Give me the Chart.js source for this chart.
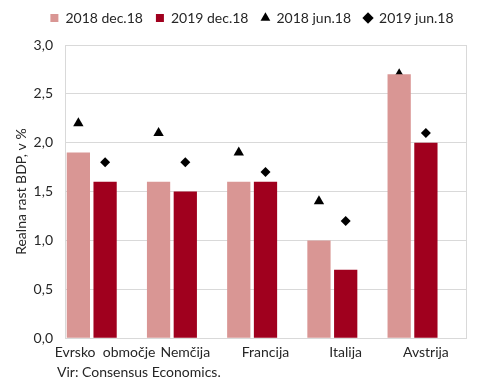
<!DOCTYPE html>
<html>
<head>
<meta charset="utf-8">
<script src="https://cdn.jsdelivr.net/npm/chart.js@4"></script>
<style>
  html, body { margin: 0; padding: 0; background: #fff; }
  #wrap { width: 490px; height: 382px; position: relative; }
</style>
</head>
<body>
<div id="wrap"><canvas id="chartGdp"></canvas></div>
<script>
	'use strict';

	const categories = ['Evrsko  območje', 'Nemčija', 'Francija', 'Italija', 'Avstrija'];
	const dec2018 = [1.9, 1.6, 1.6, 1.0, 2.7];
	const dec2019 = [1.6, 1.5, 1.6, 0.7, 2.0];
	const jun2018 = [2.2, 2.1, 1.9, 1.4, 2.7];
	const jun2019 = [1.8, 1.8, 1.7, 1.2, 2.1];
	const yTicks = [0, 0.5, 1, 1.5, 2, 2.5, 3];

	const FONT = 'Lato, "Open Sans", sans-serif';
	const GRID = '#d9d9d9';
	const TEXT = '#262626';

	// each category holds 3 bar slots (2018, 2019, empty); the label sits on the middle one
	const slot = 1 / 3;
	const toPoints = (arr, shift) => arr.map((v, i) => ({ x: i + shift, y: v }));

	const frame = {
		id: 'frame',
		afterInit(chart) {
			// fixed legend height so the plot starts where the reference does
			const legend = chart.legend;
			const fit = legend.fit;
			legend.fit = function () {
				fit.call(this);
				this.height = 47;
			};
		},
		afterLayout(chart) {
			// legend is centred over the plot, not the canvas
			chart.legend.left += 19;
			chart.legend.right += 19;
		},
		afterDraw(chart) {
			const { ctx, chartArea: a } = chart;
			ctx.save();
			ctx.strokeStyle = GRID;
			ctx.lineWidth = 1;
			ctx.strokeRect(Math.round(a.left) + 0.5, Math.round(a.top) + 0.5, Math.round(a.right - a.left), Math.round(a.bottom - a.top));
			ctx.fillStyle = TEXT;
			ctx.font = '14px ' + FONT;
			ctx.textBaseline = 'middle';
			ctx.fillText('Vir: Consensus Economics.', 57, 372);
			ctx.restore();
		}
	};

	const ctx = document.getElementById('chartGdp').getContext('2d');

	new Chart(ctx, {
		type: 'bar',
		data: {
			datasets: [
				{
					label: '2018 dec.18',
					data: toPoints(dec2018, -slot),
					backgroundColor: '#d99694',
					borderWidth: 0,
					pointStyle: 'rect'
				},
				{
					label: '2019 dec.18',
					data: toPoints(dec2019, 0),
					backgroundColor: '#a0001e',
					borderWidth: 0,
					pointStyle: 'rect'
				},
				{
					type: 'line',
					label: '2018 jun.18',
					data: toPoints(jun2018, -slot),
					showLine: false,
					pointStyle: 'triangle',
					pointRadius: 6,
					pointHoverRadius: 6,
					backgroundColor: '#000',
					borderColor: '#000',
					borderWidth: 0
				},
				{
					type: 'line',
					label: '2019 jun.18',
					data: toPoints(jun2019, 0),
					showLine: false,
					pointStyle: 'rectRot',
					pointRadius: 5,
					pointHoverRadius: 5,
					backgroundColor: '#000',
					borderColor: '#000',
					borderWidth: 0
				}
			]
		},
		options: {
			responsive: true,
			maintainAspectRatio: false,
			animation: false,
			layout: {
				padding: { top: -2, right: 24, bottom: 15, left: 0 }
			},
			datasets: {
				bar: {
					grouped: false,
					categoryPercentage: 1,
					barPercentage: 0.87
				}
			},
			plugins: {
				tooltip: { enabled: false },
				legend: {
					position: 'top',
					labels: {
						sort: (a, b) => a.datasetIndex - b.datasetIndex,
						usePointStyle: true,
						boxWidth: 8,
						boxHeight: 8,
						padding: 13,
						color: TEXT,
						font: { family: FONT, size: 14 }
					}
				}
			},
			scales: {
				x: {
					type: 'linear',
					offset: false,
					min: -0.5,
					max: categories.length - 0.5,
					afterBuildTicks: (scale) => {
						scale.ticks = categories.map((c, i) => ({ value: i }));
					},
					grid: { display: false, drawTicks: false },
					border: { display: false },
					ticks: {
						color: TEXT,
						padding: 6,
						maxRotation: 0,
						autoSkip: false,
						font: { family: FONT, size: 14 },
						callback: (v) => categories[v]
					}
				},
				y: {
					min: 0,
					max: 3,
					afterBuildTicks: (scale) => {
						scale.ticks = yTicks.map((v) => ({ value: v }));
					},
					afterFit: (scale) => {
						scale.width = 65;
					},
					grid: {
						color: GRID,
						drawTicks: false
					},
					border: { display: false },
					ticks: {
						color: TEXT,
						padding: 12,
						font: { family: FONT, size: 14 },
						callback: (v) => v.toFixed(1).replace('.', ',')
					},
					title: {
						display: true,
						text: 'Realna rast BDP, v %',
						color: TEXT,
						padding: { top: 13, bottom: 0 },
						font: { family: FONT, size: 14 }
					}
				}
			}
		},
		plugins: [frame]
	});
</script>
</body>
</html>
